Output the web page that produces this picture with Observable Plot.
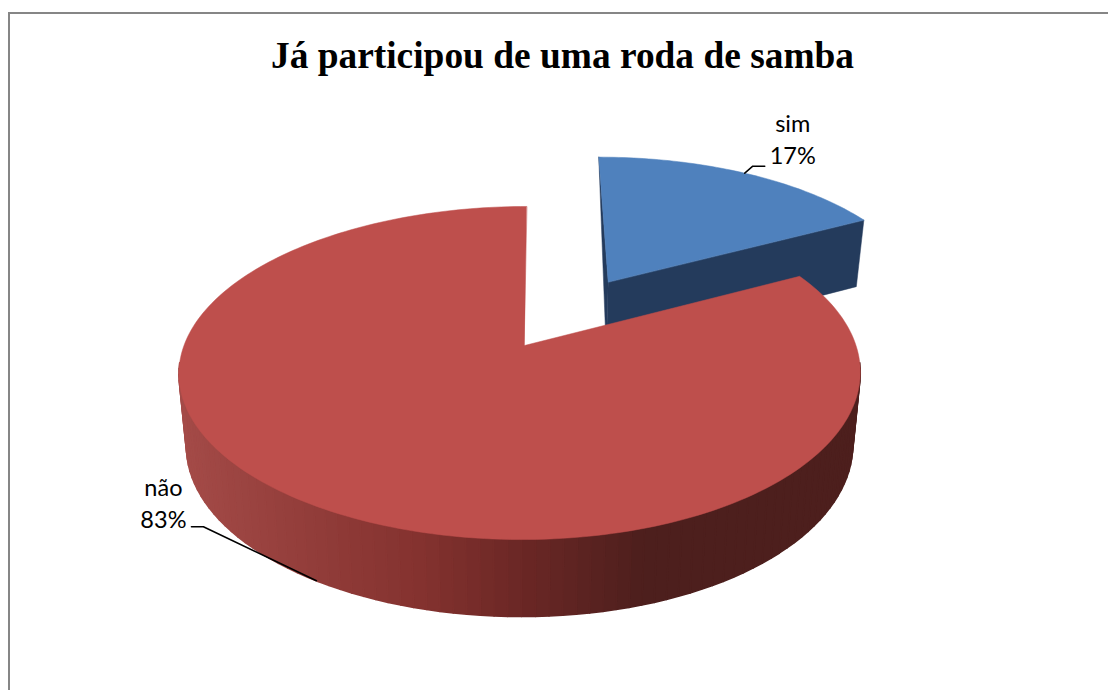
<!DOCTYPE html>
<html><head><meta charset="utf-8">
<script src="https://cdn.jsdelivr.net/npm/d3@7"></script>
<script src="https://cdn.jsdelivr.net/npm/@observablehq/plot@0.6"></script>
<style>
html,body{margin:0;padding:0;background:#fff;overflow:hidden}
#frame{position:absolute;left:8px;top:12px;width:1100px;height:678px;border-left:2px solid #868686;border-top:2px solid #868686;box-sizing:border-box}
#title{position:absolute;left:0;top:35px;width:1125px;text-align:center;font:bold 37.4px "Liberation Serif",serif;color:#000;line-height:42px}
#chart{position:absolute;left:0;top:90px}
</style></head><body>
<div id="frame"></div>
<div id="title">Já participou de uma roda de samba</div>
<div id="chart"></div>
<script>
const categories = ["sim", "não"];
const shares = [17.4, 82.6];
const topColors = ["#4F81BD", "#BE4F4C"];
const blueWall = "#243B5C";
const wallStops = [185, 300, 420, 520, 640, 860];
const wallColors = ["#A44B48", "#943E3B", "#84322F", "#6B2725", "#4D1F1D", "#4D1F1D"];

// perspective of the pie's disc
const P = {x0:524, y0:345, k:336, q:-4.5, by:-105, c:0.1652, s:89, explode:0.491, blueShift:0.009, blueR:1.02, depth:71.5, dv:-5.5, shrink:0.978, cx:520};
const rad = d => d * Math.PI / 180;
const top3 = (X, v) => { const w = 1 + P.c * v; return [(P.x0 + P.k * X + P.q * X * X + P.s * v) / w, (P.y0 + P.by * v) / w, v]; };
const low3 = (X, v) => { const [x, y] = top3(X, v); return [P.cx + (x - P.cx) * P.shrink, y + P.depth + P.dv * v, v]; };
const polar = (deg, o = [0, 0], r = 1) => [o[0] + r * Math.sin(rad(deg)), o[1] + r * Math.cos(rad(deg))];

const total = d3.sum(shares);
const edge = shares[0] / total * 360;
const mid = edge / 2;
const off0 = polar(mid, [0, 0], P.explode);
const off = [off0[0] + P.blueShift, off0[1]];
const span = (a, b, n) => d3.range(n + 1).map(i => a + (b - a) * i / n);
const poly = (pts) => pts.map(p => ({x: p[0], y: p[1]}));

const sliceBlue = [top3(...off), ...span(0, edge, 60).map(t => top3(...polar(t, off, P.blueR)))];
const sliceRed = [top3(0, 0), ...span(edge, 360, 240).map(t => top3(...polar(t)))];
const wallA = [top3(...off), top3(...polar(edge, off, P.blueR)), low3(...polar(edge, off, P.blueR)), low3(...off)];
const wallB = [top3(...polar(0, off, P.blueR)), top3(...off), low3(...off)];

const strips = [];
span(96, 264, 84).forEach((t, i, all) => {
  if (i === all.length - 1) return;
  const a = polar(t), b = polar(all[i + 1]);
  const q = [top3(...a), top3(...b), low3(...b), low3(...a)];
  const xm = (low3(...a)[0] + low3(...b)[0]) / 2;
  q.forEach(p => strips.push({x: p[0], y: p[1], i, shade: xm}));
});

// label anchors: rim near each slice's bisector
const simRim = top3(...polar(mid, off, P.blueR));
const naoRim = low3(...polar(edge + (360 - edge) / 2 + 1));
const leaderSim = [simRim, [simRim[0] + 8, simRim[1] - 7], [simRim[0] + 20, simRim[1] - 7]];
const leaderNao = [naoRim, [naoRim[0] - 113, naoRim[1] - 54], [naoRim[0] - 125, naoRim[1] - 54]];

const label = i => categories[i] + "\n" + shares[i].toFixed(0) + "%";
const labels = [
  {x: simRim[0] + 48, y: simRim[1] - 35.5, t: label(0)},
  {x: naoRim[0] - 153, y: naoRim[1] - 79, t: label(1)}
];

const chart = Plot.plot({
  width: 1108, height: 600,
  margin: 0,
  style: {background: "transparent", overflow: "visible"},
  x: {domain: [0, 1108], range: [0, 1108], axis: null},
  y: {domain: [90, 690], range: [0, 600], axis: null},
  color: {type: "linear", domain: wallStops, range: wallColors, interpolate: "rgb"},
  marks: [
    Plot.line(poly(wallA), {x: "x", y: "y", fill: blueWall, stroke: blueWall, strokeWidth: 0.5, curve: "linear-closed"}),
    Plot.line(poly(wallB), {x: "x", y: "y", fill: blueWall, stroke: blueWall, strokeWidth: 0.5, curve: "linear-closed"}),
    Plot.line(poly(sliceBlue), {x: "x", y: "y", fill: topColors[0], stroke: topColors[0], strokeWidth: 0.5, curve: "linear-closed"}),
    Plot.line(strips, {x: "x", y: "y", z: "i", fill: "shade", stroke: "shade", strokeWidth: 1.6, curve: "linear-closed"}),
    Plot.line(poly(sliceRed), {x: "x", y: "y", fill: topColors[1], stroke: topColors[1], strokeWidth: 0.5, curve: "linear-closed"}),
    Plot.line(poly(leaderSim), {x: "x", y: "y", stroke: "#000", strokeWidth: 1.5}),
    Plot.line(poly(leaderNao), {x: "x", y: "y", stroke: "#000", strokeWidth: 1.5}),
    Plot.text(labels, {x: "x", y: "y", text: "t", fontSize: 23.5, lineHeight: 1.35, fontFamily: "Lato", fill: "#000"})
  ]
});
document.getElementById("chart").append(chart);
</script>
</body></html>
